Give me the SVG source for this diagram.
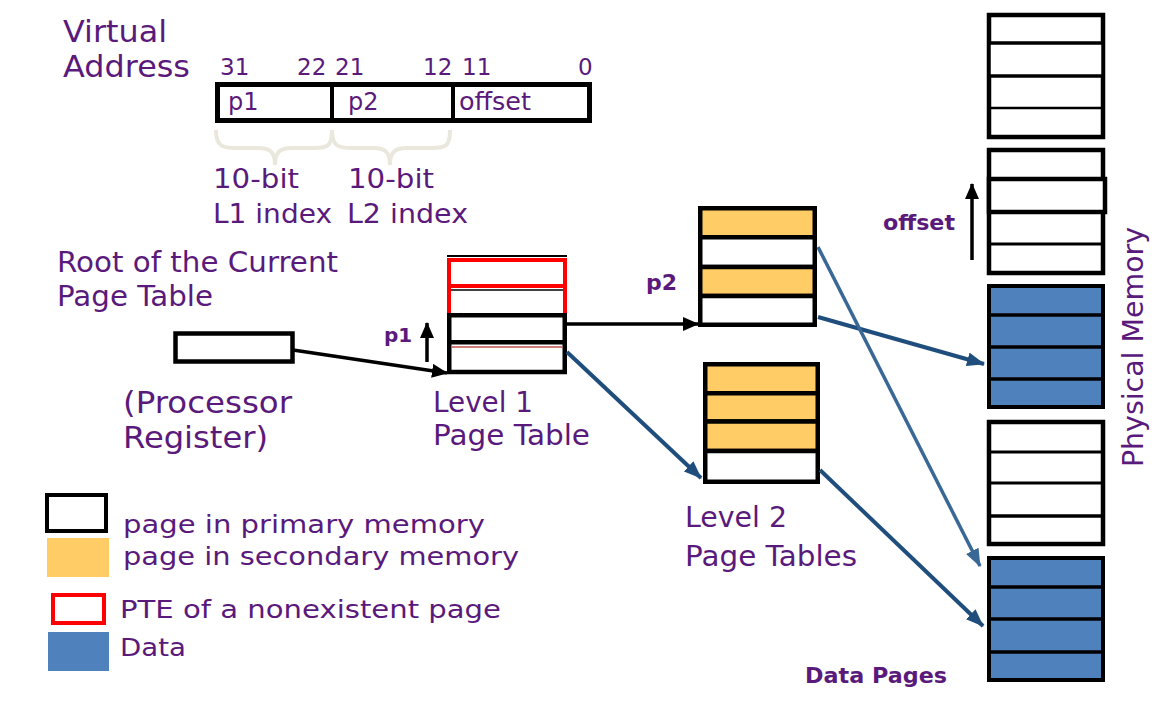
<svg xmlns="http://www.w3.org/2000/svg" width="1165" height="704" viewBox="0 0 1165 704">
<style>
text{font-family:"DejaVu Sans","Liberation Sans",sans-serif;fill:#5a1a7c}
.b{font-weight:bold}
.box{stroke:#000;stroke-width:4.5;fill:#fff}
.org{stroke:#000;stroke-width:4.5;fill:#ffcc66}
.blu{stroke:#000;stroke-width:4;fill:#4f81bd}
.wht{stroke:#000;stroke-width:3.5;fill:#fff}
.brace{fill:none;stroke:#eae7dc;stroke-width:4}
.blk{stroke:#000;stroke-width:3.5;fill:none}
.dk{stroke:#1f4e7d;stroke-width:4;fill:none}
.lt{stroke:#3a6896;stroke-width:3.5;fill:none}
</style>
<defs>
<marker id="ab" markerUnits="userSpaceOnUse" markerWidth="16" markerHeight="14" refX="15" refY="7" orient="auto"><path d="M0,0 L16,7 L0,14 Z" fill="#000"/></marker>
<marker id="ad" markerUnits="userSpaceOnUse" markerWidth="18" markerHeight="14" refX="17" refY="7" orient="auto"><path d="M0,0 L18,7 L0,14 Z" fill="#1f4e7d"/></marker>
<marker id="al" markerUnits="userSpaceOnUse" markerWidth="18" markerHeight="14" refX="17" refY="7" orient="auto"><path d="M0,0 L18,7 L0,14 Z" fill="#3a6896"/></marker>
</defs>

<g id="virtual-address">
<text x="63" y="42" font-size="30" textLength="104" lengthAdjust="spacingAndGlyphs">Virtual</text>
<text x="63" y="77" font-size="30" textLength="127" lengthAdjust="spacingAndGlyphs">Address</text>
<g font-size="23">
<text x="220" y="75">31</text><text x="297" y="75">22</text><text x="335" y="75">21</text>
<text x="423" y="75">12</text><text x="462" y="75">11</text><text x="578" y="75">0</text>
</g>
<rect x="217.5" y="84.5" width="372" height="36" fill="#fff" stroke="#000" stroke-width="5"/>
<line x1="332" y1="84" x2="332" y2="121" stroke="#000" stroke-width="4"/>
<line x1="453" y1="84" x2="453" y2="121" stroke="#000" stroke-width="4"/>
<text x="228" y="110" font-size="24">p1</text>
<text x="348" y="110" font-size="24">p2</text>
<text x="459" y="110" font-size="24" textLength="72" lengthAdjust="spacingAndGlyphs">offset</text>
<path class="brace" d="M216,130 C216,146 222,148 236,148 L258,148 C270,148 275,152 275,165 C275,152 280,148 292,148 L314,148 C328,148 332,146 332,130"/>
<path class="brace" d="M332,130 C332,146 338,148 352,148 L373,148 C385,148 390,152 390,165 C390,152 395,148 407,148 L432,148 C446,148 450,146 450,130"/>
<text x="213" y="188" font-size="26" textLength="86" lengthAdjust="spacingAndGlyphs">10-bit</text>
<text x="213" y="223" font-size="26" textLength="119" lengthAdjust="spacingAndGlyphs">L1 index</text>
<text x="348" y="188" font-size="26" textLength="86" lengthAdjust="spacingAndGlyphs">10-bit</text>
<text x="347" y="223" font-size="26" textLength="121" lengthAdjust="spacingAndGlyphs">L2 index</text>
</g>

<g id="register">
<text x="57" y="272" font-size="28" textLength="281" lengthAdjust="spacingAndGlyphs">Root of the Current</text>
<text x="57" y="306" font-size="28" textLength="156" lengthAdjust="spacingAndGlyphs">Page Table</text>
<rect x="175.5" y="333.5" width="117" height="28" class="box"/>
<text x="123" y="413" font-size="31" textLength="169" lengthAdjust="spacingAndGlyphs">(Processor</text>
<text x="123" y="448" font-size="31" textLength="145" lengthAdjust="spacingAndGlyphs">Register)</text>
</g>

<g id="level1">
<line x1="447" y1="256" x2="567" y2="256" stroke="#000" stroke-width="2"/>
<rect x="449" y="260" width="116" height="26" fill="#fff" stroke="#f00" stroke-width="4"/>
<path d="M449,286 V314 M565,286 V314" stroke="#f00" stroke-width="4" fill="none"/>
<line x1="451" y1="290" x2="563" y2="290" stroke="#000" stroke-width="1.5"/>
<rect x="449.25" y="315.25" width="115.5" height="27" class="box"/>
<path d="M449.25,343 V372 H564.75 V343" stroke="#000" stroke-width="4.5" fill="none"/>
<line x1="451.5" y1="347" x2="562.5" y2="347" stroke="#c0504d" stroke-width="1.5"/>
<text x="433" y="412" font-size="28" textLength="100" lengthAdjust="spacingAndGlyphs">Level 1</text>
<text x="433" y="445" font-size="28" textLength="157" lengthAdjust="spacingAndGlyphs">Page Table</text>
<text x="384" y="342" font-size="20" class="b">p1</text>
</g>

<g id="level2-a">
<rect x="700.25" y="208.25" width="114.5" height="29" class="org"/>
<rect x="700.25" y="237.25" width="114.5" height="29.75" class="box"/>
<rect x="700.25" y="267" width="114.5" height="29" class="org"/>
<rect x="700.25" y="296" width="114.5" height="28.75" class="box"/>
<text x="646" y="290" font-size="22" class="b">p2</text>
</g>

<g id="level2-b">
<rect x="705.25" y="364.25" width="112.5" height="29" class="org"/>
<rect x="705.25" y="393.25" width="112.5" height="28.25" class="org"/>
<rect x="705.25" y="421.5" width="112.5" height="29.5" class="org"/>
<rect x="705.25" y="451" width="112.5" height="30.75" class="box"/>
<text x="685" y="527" font-size="28" textLength="102" lengthAdjust="spacingAndGlyphs">Level 2</text>
<text x="685" y="566" font-size="28" textLength="172" lengthAdjust="spacingAndGlyphs">Page Tables</text>
</g>

<g id="physical-memory">
<g id="frame1">
<rect x="989" y="15" width="114" height="122" class="box"/>
<rect x="989" y="43" width="114" height="33" class="wht"/>
<line x1="989" y1="108" x2="1103" y2="108" stroke="#000" stroke-width="2.5"/>
</g>
<g id="frame2">
<rect x="989" y="150" width="114" height="123" class="box"/>
<rect x="989" y="179" width="116" height="33" class="box"/>
<line x1="989" y1="244" x2="1103" y2="244" stroke="#000" stroke-width="3"/>
</g>
<g id="frame3">
<rect x="989" y="286" width="114" height="121" class="blu" stroke-width="4.5"/>
<line x1="989" y1="315" x2="1103" y2="315" stroke="#000" stroke-width="3.5"/>
<line x1="989" y1="347" x2="1103" y2="347" stroke="#000" stroke-width="3.5"/>
<line x1="989" y1="379" x2="1103" y2="379" stroke="#000" stroke-width="3.5"/>
</g>
<g id="frame4">
<rect x="989" y="422" width="114" height="122" class="box"/>
<line x1="989" y1="452" x2="1103" y2="452" stroke="#000" stroke-width="3"/>
<line x1="989" y1="483" x2="1103" y2="483" stroke="#000" stroke-width="3"/>
<line x1="989" y1="516" x2="1103" y2="516" stroke="#000" stroke-width="3.5"/>
</g>
<g id="frame5">
<rect x="989" y="558" width="114" height="122" class="blu" stroke-width="4.5"/>
<line x1="989" y1="587" x2="1103" y2="587" stroke="#000" stroke-width="3.5"/>
<line x1="989" y1="619" x2="1103" y2="619" stroke="#000" stroke-width="3.5"/>
<line x1="989" y1="652" x2="1103" y2="652" stroke="#000" stroke-width="3.5"/>
</g>
<text transform="translate(1143,467) rotate(-90)" font-size="29" textLength="240" lengthAdjust="spacingAndGlyphs">Physical Memory</text>
<text x="883" y="230" font-size="22" class="b" textLength="72" lengthAdjust="spacingAndGlyphs">offset</text>
<text x="805" y="683" font-size="22" class="b" textLength="142" lengthAdjust="spacingAndGlyphs">Data Pages</text>
</g>

<g id="legend">
<rect x="47" y="495" width="59" height="36" fill="#fff" stroke="#000" stroke-width="4"/>
<rect x="47" y="538" width="62" height="39" fill="#ffcc66"/>
<rect x="53" y="595" width="51" height="28" fill="#fff" stroke="#f00" stroke-width="4"/>
<rect x="48" y="632" width="61" height="39" fill="#4f81bd"/>
<text x="123" y="533" font-size="25" textLength="362" lengthAdjust="spacingAndGlyphs">page in primary memory</text>
<text x="123" y="565" font-size="25" textLength="396" lengthAdjust="spacingAndGlyphs">page in secondary memory</text>
<text x="120" y="618" font-size="25" textLength="381" lengthAdjust="spacingAndGlyphs">PTE of a nonexistent page</text>
<text x="120" y="656" font-size="25" textLength="66" lengthAdjust="spacingAndGlyphs">Data</text>
</g>

<g id="connectors">
<line x1="293" y1="350" x2="447" y2="373" class="blk" marker-end="url(#ab)"/>
<line x1="567" y1="324" x2="698" y2="324" class="blk" stroke-width="3" marker-end="url(#ab)"/>
<line x1="427" y1="362" x2="427" y2="323" class="blk" stroke-width="3" marker-end="url(#ab)"/>
<line x1="972" y1="260" x2="972" y2="184" class="blk" stroke-width="3" marker-end="url(#ab)"/>
<line x1="818" y1="317" x2="984" y2="364" class="dk" marker-end="url(#ad)"/>
<line x1="818" y1="247" x2="980" y2="566" class="lt" marker-end="url(#al)"/>
<line x1="567" y1="352" x2="701" y2="478" class="dk" marker-end="url(#ad)"/>
<line x1="820" y1="470" x2="983" y2="626" class="dk" marker-end="url(#ad)"/>
</g>
</svg>
